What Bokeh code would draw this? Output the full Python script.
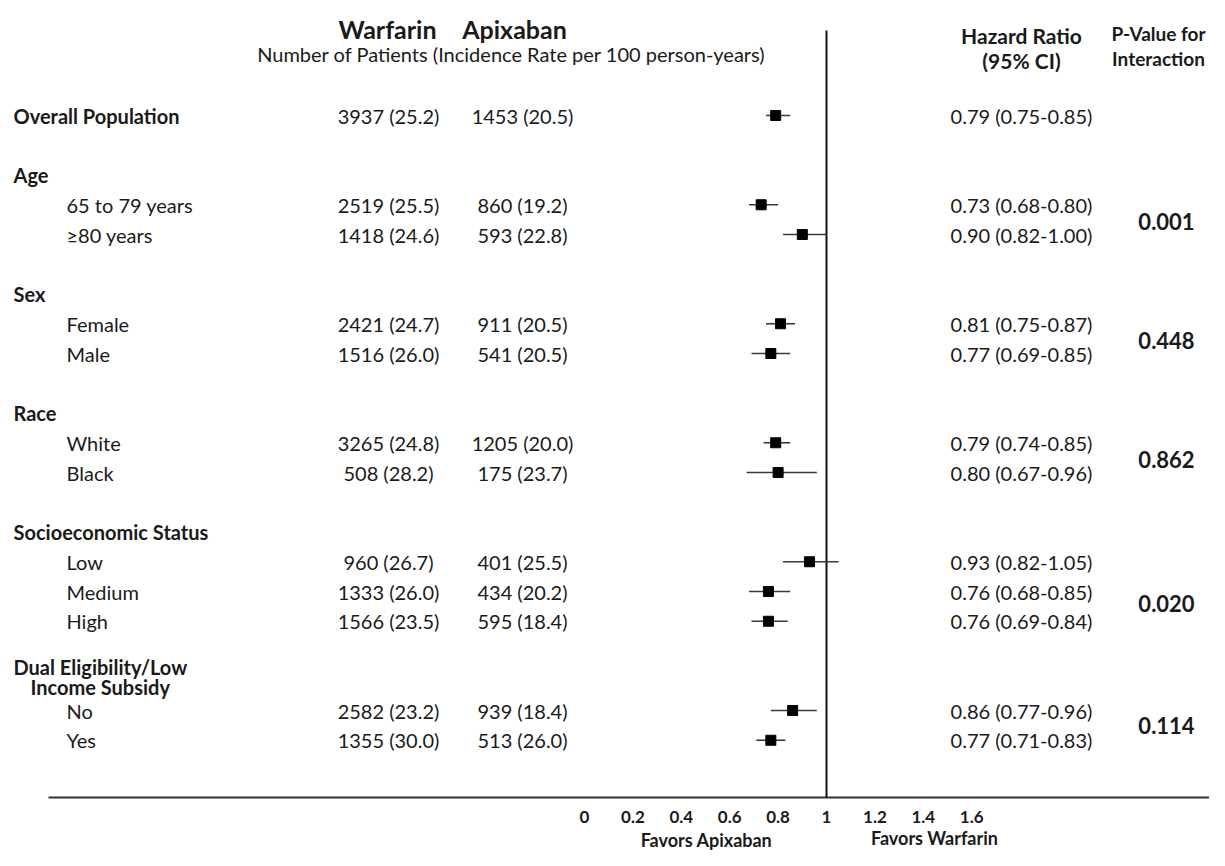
from bokeh.plotting import figure
from bokeh.models import Range1d, ColumnDataSource
from bokeh.core.properties import value
from bokeh.embed import file_html
from bokeh.resources import INLINE

# ---------------- data ----------------
row_labels = ["Overall Population", "65 to 79 years", "\u226580 years", "Female", "Male",
              "White", "Black", "Low", "Medium", "High", "No", "Yes"]
warfarin_n = [3937, 2519, 1418, 2421, 1516, 3265, 508, 960, 1333, 1566, 2582, 1355]
warfarin_ir = [25.2, 25.5, 24.6, 24.7, 26.0, 24.8, 28.2, 26.7, 26.0, 23.5, 23.2, 30.0]
apixaban_n = [1453, 860, 593, 911, 541, 1205, 175, 401, 434, 595, 939, 513]
apixaban_ir = [20.5, 19.2, 22.8, 20.5, 20.5, 20.0, 23.7, 25.5, 20.2, 18.4, 18.4, 26.0]
hr = [0.79, 0.73, 0.90, 0.81, 0.77, 0.79, 0.80, 0.93, 0.76, 0.76, 0.86, 0.77]
hr_lo = [0.75, 0.68, 0.82, 0.75, 0.69, 0.74, 0.67, 0.82, 0.68, 0.69, 0.77, 0.71]
hr_hi = [0.85, 0.80, 1.00, 0.87, 0.85, 0.85, 0.96, 1.05, 0.85, 0.84, 0.96, 0.83]
group_labels = ["Age", "Sex", "Race", "Socioeconomic Status", "Dual Eligibility/Low", "Income Subsidy"]
p_values = ["0.001", "0.448", "0.862", "0.020", "0.114"]
tick_values = [0, 0.2, 0.4, 0.6, 0.8, 1, 1.2, 1.4, 1.6]
tick_labels = ["0", "0.2", "0.4", "0.6", "0.8", "1", "1.2", "1.4", "1.6"]

# ---------------- layout ----------------
W, H = 1209, 850
PX_PER_UNIT = 242.0
ONE_SX = 826.0
ROW0_SY, ROW_H = 115.0, 29.75


def X(sx):
    return 1 + (sx - ONE_SX) / PX_PER_UNIT


def Y(sy):
    return (sy - ROW0_SY) / ROW_H


row_slots = [0, 3, 4, 7, 8, 11, 12, 15, 16, 17, 20, 21]
label_sx = [13, 66, 66, 66, 66, 66, 66, 66, 66, 66, 66, 66]
label_bold = ["bold"] + ["normal"] * 11
group_slots = [2, 6, 10, 14, Y(666), Y(686)]
group_sx = [13, 13, 13, 13, 13, 30]
p_slots = [3.55, 7.55, 11.55, 16.4, 20.5]

FONT = value("Lato")
INK = "#1a1a1a"
FS = "20px"

p = figure(width=W, height=H, output_backend="svg", toolbar_location=None,
           x_range=Range1d(X(0), X(W)), y_range=Range1d(Y(H), Y(0)),
           x_axis_location=None, y_axis_location=None, min_border=0)
p.grid.visible = False
p.outline_line_color = None
p.background_fill_color = "white"
p.border_fill_color = "white"

# reference lines
p.segment(x0=[X(48)], y0=[Y(797)], x1=[X(1230)], y1=[Y(797)], line_color="#333333", line_width=2)
p.segment(x0=[1], y0=[Y(30)], x1=[1], y1=[Y(797)], line_color="#111111", line_width=2)

# forest plot
src = ColumnDataSource(dict(
    y=row_slots, hr=hr, lo=hr_lo, hi=hr_hi,
    w=[f"{n} ({r:.1f})" for n, r in zip(warfarin_n, warfarin_ir)],
    a=[f"{n} ({r:.1f})" for n, r in zip(apixaban_n, apixaban_ir)],
    ci=[f"{h:.2f} ({l:.2f}-{u:.2f})" for h, l, u in zip(hr, hr_lo, hr_hi)],
))
p.segment(x0="lo", x1="hi", y0="y", y1="y", source=src, line_color="#3a3a3a", line_width=1.6)
p.scatter(x="hr", y="y", source=src, marker="square", size=10, fill_color="black", line_color="black")

# row labels (bold for overall, normal for subgroups)
for i, lab in enumerate(row_labels):
    p.text(x=[X(label_sx[i])], y=[row_slots[i]], text=[lab], text_font=FONT, text_font_size=FS,
           text_font_style=label_bold[i], text_color=INK, text_baseline="middle", text_align="left")

p.text(x=X(388), y="y", text="w", source=src, text_font=FONT, text_font_size=FS,
       text_color=INK, text_baseline="middle", text_align="center")
p.text(x=X(522), y="y", text="a", source=src, text_font=FONT, text_font_size=FS,
       text_color=INK, text_baseline="middle", text_align="center")
p.text(x=X(1021), y="y", text="ci", source=src, text_font=FONT, text_font_size=FS,
       text_color=INK, text_baseline="middle", text_align="center")

# group headers
p.text(x=[X(s) for s in group_sx], y=group_slots, text=group_labels, text_font=FONT,
       text_font_size=FS, text_font_style="bold", text_color=INK, text_baseline="middle",
       text_align="left")

# p-values
p.text(x=[X(1166)] * len(p_values), y=p_slots, text=p_values, text_font=FONT,
       text_font_size="22px", text_font_style="bold", text_color=INK, text_baseline="middle",
       text_align="center")

# column headers
p.text(x=[X(387), X(514)], y=[Y(28), Y(28)], text=["Warfarin", "Apixaban"], text_font=FONT,
       text_font_size="25px", text_font_style="bold", text_color=INK, text_baseline="middle",
       text_align="center")
p.text(x=[X(511)], y=[Y(53)], text=["Number of Patients (Incidence Rate per 100 person-years)"],
       text_font=FONT, text_font_size=FS, text_color=INK, text_baseline="middle", text_align="center")
p.text(x=[X(1021), X(1021)], y=[Y(35), Y(60)], text=["Hazard Ratio", "(95% CI)"], text_font=FONT,
       text_font_size="21px", text_font_style="bold", text_color=INK, text_baseline="middle",
       text_align="center")
p.text(x=[X(1158), X(1158)], y=[Y(33), Y(58)], text=["P-Value for", "Interaction"], text_font=FONT,
       text_font_size="19px", text_font_style="bold", text_color=INK, text_baseline="middle",
       text_align="center")

# tick labels and favours labels
p.text(x=tick_values, y=[Y(816)] * len(tick_values), text=tick_labels, text_font=FONT,
       text_font_size="17px", text_font_style="bold", text_color=INK, text_baseline="middle",
       text_align="center")
p.text(x=[X(706), X(934)], y=[Y(839), Y(837)], text=["Favors Apixaban", "Favors Warfarin"],
       text_font=FONT, text_font_size="18px", text_font_style="bold", text_color=INK,
       text_baseline="middle", text_align="center")

open("out.html", "w").write(file_html(p, INLINE))
